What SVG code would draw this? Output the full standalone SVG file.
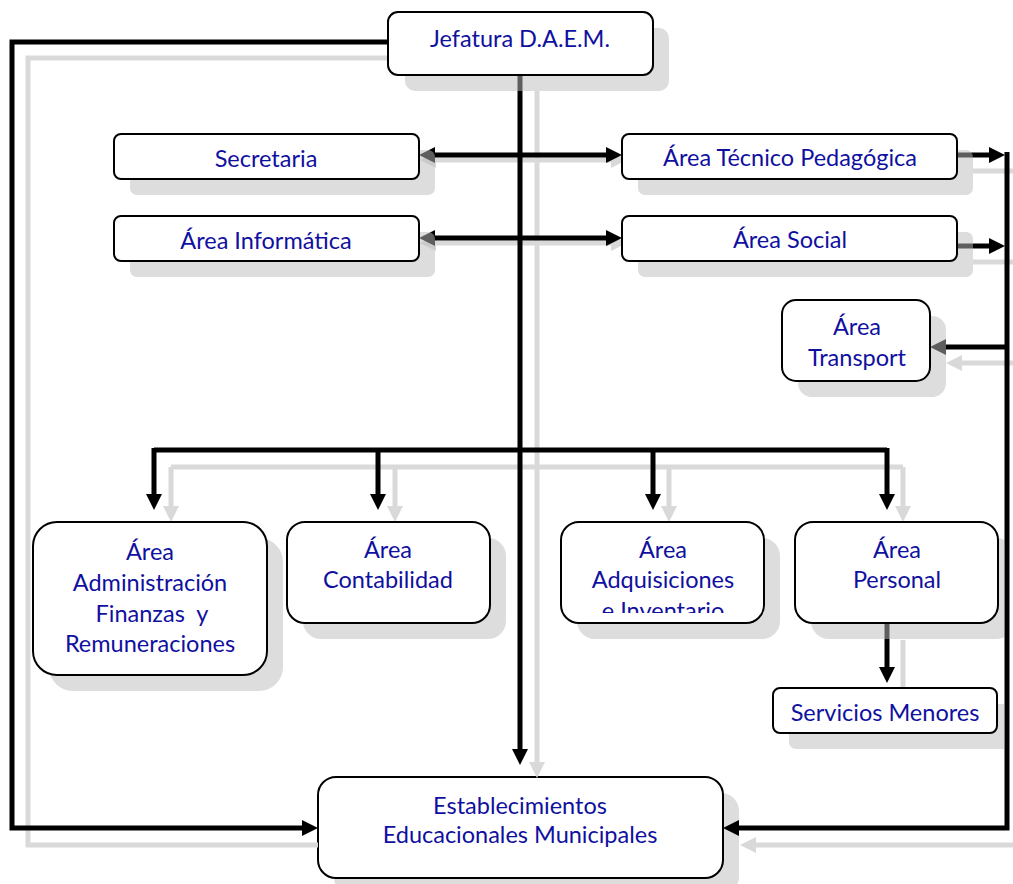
<svg xmlns="http://www.w3.org/2000/svg" width="1013" height="884" viewBox="0 0 1013 884">
<defs>
<marker id="ab" viewBox="0 0 16 16" refX="1" refY="8" markerWidth="16" markerHeight="16" markerUnits="userSpaceOnUse" orient="auto-start-reverse"><path d="M0,0 L16,8 L0,16 z" fill="#000"/></marker>
<marker id="ag" viewBox="0 0 16 16" refX="1" refY="8" markerWidth="16" markerHeight="16" markerUnits="userSpaceOnUse" orient="auto-start-reverse"><path d="M0,0 L16,8 L0,16 z" fill="#d9d9d9"/></marker>
<clipPath id="clipAdq"><rect x="561" y="522" width="203" height="91"/></clipPath>
<clipPath id="clipR"><rect x="0" y="0" width="1004" height="884"/></clipPath>
</defs>
<style>
.box{fill:#fff;stroke:#000;stroke-width:2}
.sh{fill:#bcbcbc;fill-opacity:0.5}
.t{font-family:Lato,"Liberation Sans",sans-serif;font-size:23.5px;fill:#1010a0;text-anchor:middle}
.k{fill:none;stroke:#000;stroke-width:5}
.g{fill:none;stroke:#d9d9d9;stroke-width:5}
.ka{marker-end:url(#ab)}
.ga{marker-end:url(#ag)}
</style>

<g id="n-establecimientos">
<rect class="sh" x="334" y="793" width="405" height="102" rx="18"/>
<rect class="box" x="318" y="777" width="405" height="101" rx="18"/>
<text class="t" x="520" y="814">Establecimientos</text>
<text class="t" x="520" y="843">Educacionales Municipales</text>
</g>

<g id="connectors">
<!-- shadows -->
<path class="g" d="M388,58 H28 V845 H318"/>
<path class="g ga" d="M537,91 V763"/>
<path class="g" d="M435,160 H612" style="marker-start:url(#ag);marker-end:url(#ag)"/>
<path class="g" d="M435,243 H612" style="marker-start:url(#ag);marker-end:url(#ag)"/>
<path class="g" d="M973,171 H1013"/>
<path class="g" d="M973,262 H1013"/>
<path class="g ga" d="M1013,363 H961"/>
<path class="g ga" d="M1013,845 H755"/>
<path class="g" d="M171,467 H903"/>
<path class="g ga" d="M171,467 V507"/>
<path class="g ga" d="M395,467 V507"/>
<path class="g ga" d="M669,467 V507"/>
<path class="g ga" d="M903,467 V507"/>
<path class="g" d="M903,640 V690"/>
<!-- main lines -->
<path class="k ka" d="M388,42 H12 V828 H303"/>
<path class="k ka" d="M520,75 V750"/>
<path class="k" d="M434,155 H607" style="marker-start:url(#ab);marker-end:url(#ab)"/>
<path class="k" d="M434,238 H607" style="marker-start:url(#ab);marker-end:url(#ab)"/>
<path class="k ka" d="M957,155 H990"/>
<path class="k ka" d="M957,246 H990"/>
<path class="k ka" d="M1007,152 V828 H738"/>
<path class="k ka" d="M1007,347 H945"/>
<path class="k" d="M154,450 H887"/>
<path class="k ka" d="M154,448 V495"/>
<path class="k ka" d="M378,450 V495"/>
<path class="k ka" d="M653,450 V495"/>
<path class="k ka" d="M887,448 V495"/>
<path class="k ka" d="M887,624 V668"/>
</g>

<g id="n-jefatura">
<rect class="sh" x="405" y="28" width="264" height="63" rx="10"/>
<rect class="box" x="388" y="12" width="265" height="63" rx="10"/>
<text class="t" x="520" y="47">Jefatura D.A.E.M.</text>
</g>

<g id="n-secretaria">
<rect class="sh" x="130" y="150" width="305" height="45" rx="7"/>
<rect class="box" x="114" y="134" width="305" height="45" rx="7"/>
<text class="t" x="266" y="167">Secretaria</text>
</g>

<g id="n-informatica">
<rect class="sh" x="130" y="232" width="305" height="45" rx="7"/>
<rect class="box" x="114" y="216" width="305" height="45" rx="7"/>
<text class="t" x="266" y="249">Área Informática</text>
</g>

<g id="n-tecnico">
<rect class="sh" x="638" y="150" width="335" height="45" rx="7"/>
<rect class="box" x="622" y="134" width="335" height="45" rx="7"/>
<text class="t" x="790" y="166">Área Técnico Pedagógica</text>
</g>

<g id="n-social">
<rect class="sh" x="638" y="232" width="335" height="45" rx="7"/>
<rect class="box" x="622" y="216" width="335" height="45" rx="7"/>
<text class="t" x="790" y="248">Área Social</text>
</g>

<g id="n-transport">
<rect class="sh" x="798" y="316" width="148" height="81" rx="14"/>
<rect class="box" x="782" y="300" width="148" height="81" rx="14"/>
<text class="t" x="857" y="335">Área</text>
<text class="t" x="857" y="366">Transport</text>
</g>

<g id="n-admin">
<rect class="sh" x="49" y="538" width="234" height="153" rx="24"/>
<rect class="box" x="33" y="522" width="234" height="153" rx="24"/>
<text class="t" x="150" y="560">Área</text>
<text class="t" x="150" y="591">Administración</text>
<text class="t" x="152" y="622" xml:space="preserve">Finanzas  y</text>
<text class="t" x="150" y="652">Remuneraciones</text>
</g>

<g id="n-contabilidad">
<rect class="sh" x="303" y="538" width="203" height="101" rx="18"/>
<rect class="box" x="287" y="522" width="203" height="101" rx="18"/>
<text class="t" x="388" y="558">Área</text>
<text class="t" x="388" y="588">Contabilidad</text>
</g>

<g id="n-adquisiciones">
<rect class="sh" x="577" y="538" width="203" height="101" rx="18"/>
<rect class="box" x="561" y="522" width="203" height="101" rx="18"/>
<g clip-path="url(#clipAdq)">
<text class="t" x="663" y="558">Área</text>
<text class="t" x="663" y="588">Adquisiciones</text>
<text class="t" x="663" y="619">e Inventario</text>
</g>
</g>

<g id="n-personal">
<rect class="sh" x="811" y="538" width="203" height="101" rx="18" clip-path="url(#clipR)"/>
<rect class="box" x="795" y="522" width="203" height="101" rx="18"/>
<text class="t" x="897" y="558">Área</text>
<text class="t" x="897" y="588">Personal</text>
</g>

<g id="n-servicios">
<rect class="sh" x="789" y="704" width="224" height="45" rx="7" clip-path="url(#clipR)"/>
<rect class="box" x="773" y="688" width="224" height="45" rx="7"/>
<text class="t" x="885" y="721">Servicios Menores</text>
</g>
</svg>
